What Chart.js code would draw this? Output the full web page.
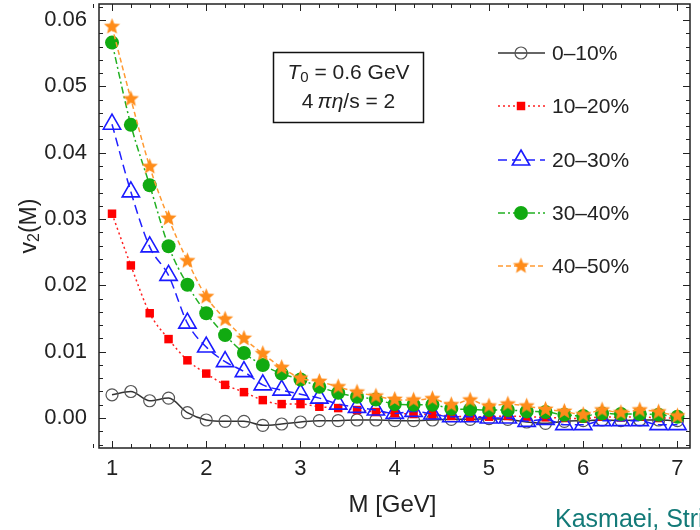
<!DOCTYPE html>
<html>
<head>
<meta charset="utf-8">
<script src="https://cdn.jsdelivr.net/npm/chart.js@4.4.1/dist/chart.umd.min.js"></script>
<style>
  html, body { margin: 0; padding: 0; background: #fff; }
</style>
</head>
<body>
<canvas id="v2Chart" width="700" height="530"></canvas>
<script>
const fontFamily = "'Liberation Sans', Arial, sans-serif";
const textColor = '#222';

// invariant mass [GeV]
const massGeV = [1.0, 1.2, 1.4, 1.6, 1.8, 2.0, 2.2, 2.4, 2.6, 2.8, 3.0, 3.2, 3.4, 3.6, 3.8, 4.0,
                 4.2, 4.4, 4.6, 4.8, 5.0, 5.2, 5.4, 5.6, 5.8, 6.0, 6.2, 6.4, 6.6, 6.8, 7.0];

// v2(M) per centrality class
const v2_0_10 = [0.0035, 0.0040, 0.0026, 0.0030, 0.0008, -0.0003, -0.0005, -0.0005, -0.0011, -0.0009, -0.0006,
                 -0.0004, -0.0004, -0.0003, -0.0003, -0.0004, -0.0004, -0.0003, -0.0002, -0.0002, -0.0001,
                 -0.0002, -0.0006, -0.0008, -0.0005, -0.0004, -0.0003, -0.0004, -0.0003, -0.0003, -0.0004];
const v2_10_20 = [0.0308, 0.0230, 0.0158, 0.0119, 0.0087, 0.0067, 0.0050, 0.0039, 0.0027, 0.0021, 0.0021,
                  0.0017, 0.0015, 0.0012, 0.0009, 0.0007, 0.0006, 0.0005, 0.0003, 0.0002, 0.0002,
                  0.0003, 0.0002, 0.0001, 0.0000, -0.0001, 0.0002, 0.0001, 0.0002, 0.0000, 0.0000];
const v2_20_30 = [0.0443, 0.0341, 0.0258, 0.0215, 0.0143, 0.0107, 0.0085, 0.0070, 0.0050, 0.0042, 0.0036,
                  0.0030, 0.0021, 0.0016, 0.0012, 0.0007, 0.0010, 0.0006, 0.0002, 0.0002, 0.0000,
                  0.0000, -0.0005, -0.0002, -0.0010, -0.0010, -0.0004, -0.0004, -0.0004, -0.0010, -0.0010];
const v2_30_40 = [0.0566, 0.0442, 0.0351, 0.0259, 0.0201, 0.0158, 0.0125, 0.0098, 0.0080, 0.0067, 0.0058,
                  0.0047, 0.0038, 0.0032, 0.0028, 0.0021, 0.0020, 0.0020, 0.0014, 0.0013, 0.0012,
                  0.0012, 0.0010, 0.0009, 0.0005, 0.0003, 0.0007, 0.0006, 0.0006, 0.0005, 0.0002];
const v2_40_50 = [0.0590, 0.0481, 0.0379, 0.0301, 0.0237, 0.0183, 0.0149, 0.0120, 0.0097, 0.0076, 0.0060,
                  0.0055, 0.0047, 0.0039, 0.0033, 0.0028, 0.0027, 0.0029, 0.0020, 0.0027, 0.0018,
                  0.0021, 0.0018, 0.0013, 0.0010, 0.0005, 0.0012, 0.0008, 0.0012, 0.0009, 0.0003];

const seriesLabels = ['0\u201310%', '10\u201320%', '20\u201330%', '30\u201340%', '40\u201350%'];
const xTickValues = [1, 2, 3, 4, 5, 6, 7];
const yTickValues = [0.00, 0.01, 0.02, 0.03, 0.04, 0.05, 0.06];

function makeStar(outer, inner, color) {
    const c = document.createElement('canvas');
    const s = Math.ceil(outer * 2 + 2);
    c.width = c.height = s;
    const g = c.getContext('2d');
    g.beginPath();
    for (let k = 0; k < 10; k++) {
        const r = k % 2 ? inner : outer;
        const ang = -Math.PI / 2 + k * Math.PI / 5;
        g.lineTo(s / 2 + r * Math.cos(ang), s / 2 + r * Math.sin(ang));
    }
    g.closePath();
    g.fillStyle = color;
    g.fill();
    return c;
}
const starImg = makeStar(8.5, 3.8, '#ff8c1a');

const toPoints = arr => massGeV.map((m, i) => ({ x: m, y: arr[i] }));

const datasets = [
    { label: seriesLabels[0], data: toPoints(v2_0_10), order: 5,
      borderColor: '#333', borderWidth: 1.5, borderDash: [],
      pointStyle: 'circle', pointRadius: 6, pointBorderWidth: 1.2,
      pointBorderColor: '#555', pointBackgroundColor: 'rgba(0,0,0,0)' },
    { label: seriesLabels[1], data: toPoints(v2_10_20), order: 4,
      borderColor: '#ff2020', borderWidth: 1.5, borderDash: [2, 3],
      pointStyle: 'rect', pointRadius: 6, pointBorderWidth: 0,
      pointBorderColor: '#ff0000', pointBackgroundColor: '#ff0000' },
    { label: seriesLabels[2], data: toPoints(v2_20_30), order: 3,
      borderColor: '#2020ff', borderWidth: 1.5, borderDash: [9, 5],
      pointStyle: 'triangle', pointRadius: 10, pointBorderWidth: 1.6,
      pointBorderColor: '#1a1aff', pointBackgroundColor: 'rgba(0,0,0,0)' },
    { label: seriesLabels[3], data: toPoints(v2_30_40), order: 2,
      borderColor: '#22b022', borderWidth: 1.5, borderDash: [7, 3, 2, 3],
      pointStyle: 'circle', pointRadius: 7, pointBorderWidth: 0,
      pointBorderColor: '#11aa11', pointBackgroundColor: '#11aa11' },
    { label: seriesLabels[4], data: toPoints(v2_40_50), order: 1,
      borderColor: '#ff9a33', borderWidth: 1.5, borderDash: [5, 3],
      pointStyle: starImg, pointRadius: 8, pointBorderWidth: 0,
      pointBorderColor: '#ff8c1a', pointBackgroundColor: '#ff8c1a' }
];

// draws a line of text made of styled parts, centred on (cx, cy)
function drawRich(ctx, parts, cx, cy) {
    const fontOf = p => `${p.italic ? 'italic ' : ''}${p.size}px ${fontFamily}`;
    let total = 0;
    parts.forEach(p => { ctx.font = fontOf(p); p.w = ctx.measureText(p.t).width; total += p.w; });
    let x = cx - total / 2;
    ctx.textAlign = 'left';
    ctx.textBaseline = 'middle';
    parts.forEach(p => {
        ctx.font = fontOf(p);
        ctx.fillText(p.t, x, cy + (p.dy || 0));
        x += p.w;
    });
}

const framePlugin = {
    id: 'mathematicaFrame',
    afterDraw(chart) {
        const { ctx, chartArea: a, scales: { x, y } } = chart;
        ctx.save();

        // inward ticks on all four sides
        ctx.strokeStyle = '#222';
        ctx.lineWidth = 1;
        ctx.beginPath();
        for (let k = 4; k <= 35; k++) {
            const px = Math.round(x.getPixelForValue(k / 5)) + 0.5;
            const len = k % 5 === 0 ? 7 : 4;
            ctx.moveTo(px, a.bottom); ctx.lineTo(px, a.bottom - len);
            ctx.moveTo(px, a.top); ctx.lineTo(px, a.top + len);
        }
        for (let k = -2; k <= 31; k++) {
            const py = Math.round(y.getPixelForValue(k * 0.002)) + 0.5;
            const len = k % 5 === 0 ? 7 : 4;
            ctx.moveTo(a.left, py); ctx.lineTo(a.left + len, py);
            ctx.moveTo(a.right, py); ctx.lineTo(a.right - len, py);
        }
        ctx.stroke();

        ctx.lineWidth = 1.5;
        ctx.strokeRect(a.left, a.top, a.right - a.left, a.bottom - a.top);

        // axis titles
        ctx.fillStyle = textColor;
        drawRich(ctx, [{ t: 'M [GeV]', size: 24 }], (a.left + a.right) / 2 - 2, 505);
        ctx.save();
        ctx.translate(30, (a.top + a.bottom) / 2);
        ctx.rotate(-Math.PI / 2);
        drawRich(ctx, [{ t: 'v', size: 23 }, { t: '2', size: 16, dy: 5 }, { t: '(M)', size: 23 }], 0, 0);
        ctx.restore();

        // parameter box
        ctx.strokeStyle = '#111';
        ctx.lineWidth = 1.5;
        ctx.strokeRect(273.5, 52.5, 150, 70);
        drawRich(ctx, [{ t: 'T', size: 21, italic: true }, { t: '0', size: 15, dy: 5 },
                       { t: ' = 0.6 GeV', size: 21 }], 348.5, 73);
        drawRich(ctx, [{ t: '4\u2009', size: 21 }, { t: '\u03c0\u03b7', size: 21, italic: true },
                       { t: '/s = 2', size: 21 }], 348.5, 102);

        // legend
        const rows = [53, 106, 160, 213, 266];
        chart.data.datasets.forEach((ds, i) => {
            const ry = rows[i];
            ctx.save();
            ctx.strokeStyle = ds.borderColor;
            ctx.lineWidth = ds.borderWidth;
            ctx.setLineDash(ds.borderDash);
            ctx.beginPath();
            ctx.moveTo(498, ry); ctx.lineTo(545, ry);
            ctx.stroke();
            ctx.setLineDash([]);
            ctx.fillStyle = ds.pointBackgroundColor;
            ctx.strokeStyle = ds.pointBorderColor;
            ctx.lineWidth = ds.pointBorderWidth;
            Chart.helpers.drawPoint(ctx, {
                pointStyle: ds.pointStyle, radius: ds.pointRadius,
                rotation: 0, borderWidth: ds.pointBorderWidth
            }, 521, ry);
            ctx.restore();
            ctx.fillStyle = textColor;
            ctx.font = `21px ${fontFamily}`;
            ctx.textAlign = 'left';
            ctx.textBaseline = 'middle';
            ctx.fillText(ds.label, 552, ry + 1);
        });

        // credit line, cut by the page edge like in the source
        ctx.fillStyle = '#137a78';
        ctx.font = `25px ${fontFamily}`;
        ctx.textAlign = 'left';
        ctx.textBaseline = 'alphabetic';
        ctx.fillText('Kasmaei, Strickland', 555, 527);

        ctx.restore();
    }
};

new Chart(document.getElementById('v2Chart').getContext('2d'), {
    type: 'line',
    data: { datasets },
    options: {
        responsive: false,
        animation: false,
        layout: { autoPadding: false, padding: { left: 0, right: 10, top: 4, bottom: 0 } },
        elements: { line: { cubicInterpolationMode: 'monotone' } },
        plugins: { legend: { display: false }, tooltip: { enabled: false } },
        scales: {
            x: {
                type: 'linear',
                min: 0.862,
                max: 7.133,
                grid: { display: false },
                border: { display: false },
                afterBuildTicks: s => { s.ticks = xTickValues.map(v => ({ value: v })); },
                afterFit: s => { s.height = 82; s.paddingLeft = 0; s.paddingRight = 0; },
                ticks: {
                    padding: 0, autoSkip: false, maxRotation: 0, color: textColor,
                    font: { family: fontFamily, size: 22 },
                    callback: v => String(v)
                }
            },
            y: {
                min: -0.00452,
                max: 0.06242,
                grid: { display: false },
                border: { display: false },
                afterBuildTicks: s => { s.ticks = yTickValues.map(v => ({ value: v })); },
                afterFit: s => { s.width = 99; s.paddingTop = 0; s.paddingBottom = 0; },
                ticks: {
                    padding: 4, color: textColor,
                    font: { family: fontFamily, size: 22 },
                    callback: v => v.toFixed(2)
                }
            }
        }
    },
    plugins: [framePlugin]
});
</script>
</body>
</html>
